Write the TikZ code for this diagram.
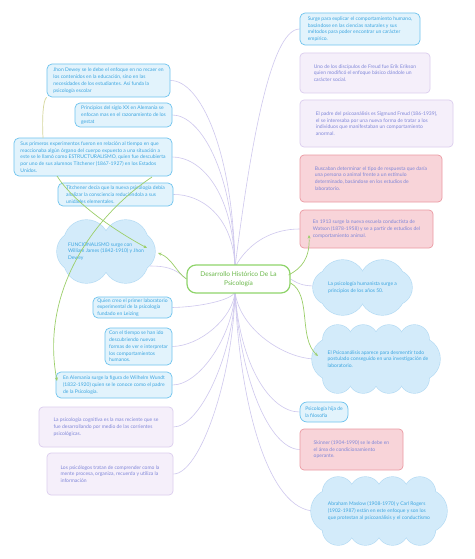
\documentclass[tikz,border=0pt]{standalone}
\usepackage{fontspec}
\setmainfont{Lato}
\usetikzlibrary{arrows.meta,backgrounds,calc}
\definecolor{bfill}{HTML}{E2F3FC}
\definecolor{bdraw}{HTML}{6EC3EE}
\definecolor{btext}{HTML}{3BA5E0}
\definecolor{pfill}{HTML}{F5EFFA}
\definecolor{pdraw}{HTML}{DCCDEE}
\definecolor{ptext}{HTML}{7F86D8}
\definecolor{rfill}{HTML}{F8D4D9}
\definecolor{rdraw}{HTML}{EB9AA3}
\definecolor{cfill}{HTML}{D3EBFA}
\definecolor{cdraw}{HTML}{B5DBF4}
\definecolor{gline}{HTML}{9CCF6A}
\definecolor{gtext}{HTML}{6BB84A}
\definecolor{gdraw}{HTML}{8FD46B}
\definecolor{connc}{HTML}{CFC8EE}
\definecolor{yline}{HTML}{D5D79C}
\newcommand\mycloud[5]{%
 \pgfmathsetmacro\cldS{0.1*(#3-#1)}%
 \pgfmathsetmacro\cldR{1.15*((#3-#1)-2*\cldS)/(2*#5)}%
 \pgfmathsetmacro\cldSR{0.32*(#4-#2)}%
 \pgfmathsetmacro\cldMY{(#2+#4)/2}%
 \pgfmathsetmacro\cldStep{((#3-#1)-2*\cldS)/#5}%
 \pgfmathsetmacro\cldXa{#1+\cldSR}\pgfmathsetmacro\cldXb{#3-\cldSR}%
 \pgfmathsetmacro\cldYt{#2+\cldR}\pgfmathsetmacro\cldYb{#4-\cldR}%
 \pgfmathsetmacro\cldRa{#1+\cldS}\pgfmathsetmacro\cldRb{#3-\cldS}%
 \foreach \pass in {1,2}{%
  \ifnum\pass=1 \tikzset{cpass/.style={draw=cdraw,line width=1.3pt}}\else\tikzset{cpass/.style={fill=cfill}}\fi
  \path[cpass] (\cldXa,\cldMY) circle[radius=\cldSR];
  \path[cpass] (\cldXb,\cldMY) circle[radius=\cldSR];
  \ifnum\pass=2 \path[cpass] (\cldRa,\cldYt) rectangle (\cldRb,\cldYb);\fi
  \foreach \i in {1,...,#5}{%
   \pgfmathsetmacro\cldXX{#1+\cldS+(\i-0.5)*\cldStep}%
   \path[cpass] (\cldXX,\cldYt) circle[radius=\cldR];
   \path[cpass] (\cldXX,\cldYb) circle[radius=\cldR];
  }%
 }%
}
\begin{document}
\begin{tikzpicture}[x=1pt,y=-1pt,
  txt/.style={align=left,font=\fontsize{5}{6.8}\selectfont,inner sep=0pt},
  bbox/.style={txt,rounded corners=5pt,draw=bdraw,fill=bfill,line width=0.7pt,text=btext},
  pbox/.style={txt,rounded corners=4pt,draw=pdraw,fill=pfill,line width=0.7pt,text=ptext},
  rbox/.style={txt,rounded corners=4pt,draw=rdraw,fill=rfill,line width=0.7pt,text=ptext},
  ctext/.style={txt,text=btext},
  conn/.style={draw=connc,line width=0.6pt},
  garrow/.style={draw=gline,line width=0.7pt,-{Stealth[length=3.5pt,width=3pt]}},
  yl/.style={draw=yline,line width=0.7pt}]
\begin{pgfonlayer}{background}
\fill[white] (0,0) rectangle (474,559);
\end{pgfonlayer}
\useasboundingbox (0,0) rectangle (474,559);
% clouds
\mycloud{57}{220}{155}{283}{2}
\mycloud{313}{260}{412}{315}{2}
\mycloud{312}{325}{440}{393}{4}
\mycloud{311}{477}{447}{545}{4}
% center
\node[draw=gdraw,fill=white,line width=1.2pt,rounded corners=9pt,align=center,
  text=gtext,font=\fontsize{6.6}{9}\selectfont,minimum width=103pt,minimum height=28pt,inner sep=0pt]
  (c) at (238.5,279) {Desarrollo Histórico De La\\Psicología};
% left
\node[bbox,minimum width=123pt,minimum height=33pt] (L1) at (108.5,80.5)
 {Jhon Dewey se le debe el enfoque en no recaer en\\los contenidos en la educación, sino en las\\necesidades de los estudiantes. Así funda la\\psicología escolar};
\node[bbox,minimum width=97pt,minimum height=24pt] (L2) at (123.5,115)
 {Principios del siglo XX en Alemania se\\enfocan mas en el razonamiento de los\\gestat};
\node[bbox,minimum width=158pt,minimum height=38pt] (L3) at (93,157)
 {Sus primeros experimentos fueron en relación al tiempo en que\\reaccionaba algún órgano del cuerpo expuesto a una situación a\\este se le llamó como ESTRUCTURALISMO, quien fue descubierta\\por uno de sus alumnos Titchener (1867-1927) en los Estados\\Unidos.};
\node[bbox,minimum width=115pt,minimum height=23pt] (L4) at (115.5,194.5)
 {Titchener decía que la nueva psicología debía\\analizar la consciencia reduciéndola a sus\\unidades elementales.};
\node[ctext,minimum width=98pt,minimum height=63pt] (L5) at (106,251.5)
 {FUNCIONALISMO surge con\\William James (1842-1910) y Jhon\\Dewey};
\node[bbox,minimum width=79pt,minimum height=21pt] (L6) at (132.5,307.5)
 {Quien creo el primer laboratorio\\experimental de la psicología\\fundado en Leizing};
\node[bbox,minimum width=67pt,minimum height=37pt] (L7) at (138.5,346.5)
 {Con el tiempo se han ido\\descubriendo nuevas\\formas de ver e interpretar\\los comportamientos\\humanos.};
\node[bbox,minimum width=116pt,minimum height=26pt] (L8) at (114,385)
 {En Alemania surge la figura de Wilhelm Wundt\\(1832-1920) quien se le conoce como el padre\\de la Psicología.};
\node[pbox,minimum width=134pt,minimum height=40pt] (L9) at (106,427)
 {La psicología cognitiva es la mas reciente que se\\fue desarrollando por medio de las corrientes\\psicológicas.};
\node[pbox,minimum width=126pt,minimum height=42pt] (L10) at (110,474)
 {Los psicólogos tratan de comprender como la\\mente procesa, organiza, recuerda y utiliza la\\información};
% right
\node[bbox,minimum width=120pt,minimum height=32pt] (R1) at (360,29)
 {Surge para explicar el comportamiento humano,\\basándose en las ciencias naturales y sus\\métodos para poder encontrar un carácter\\empírico.};
\node[pbox,minimum width=130pt,minimum height=40pt] (R2) at (365,73)
 {Uno de los discípulos de Freud fue Erik Erikson\\quien modificó el enfoque básico dándole un\\carácter social.};
\node[pbox,minimum width=153pt,minimum height=47pt] (R3) at (376.5,123.5)
 {El padre del psicoanálisis es Sigmund Freud (186-1939),\\el se interesaba por una nueva forma de tratar a los\\individuos que manifestaban un comportamiento\\anormal.};
\node[rbox,minimum width=142pt,minimum height=47pt] (R4) at (371,178.5)
 {Buscaban determinar el tipo de respuesta que daría\\una persona o animal frente a un estímulo\\determinado, basándose en los estudios de\\laboratorio.};
\node[rbox,minimum width=133pt,minimum height=38pt] (R5) at (366.5,229)
 {En 1913 surge la nueva escuela conductista de\\Watson (1878-1958) y se a partir de estudios del\\comportamiento animal.};
\node[ctext,minimum width=99pt,minimum height=55pt] (R6) at (362.5,287.5)
 {La psicología humanista surge a\\principios de los años 50.};
\node[ctext,minimum width=128pt,minimum height=68pt] (R7) at (378,359)
 {El Psicoanálisis aparece para desmentir todo\\postulado conseguido en una investigación de\\laboratorio.};
\node[bbox,rounded corners=7pt,minimum width=48pt,minimum height=20pt] (R8) at (324,412)
 {Psicología hija de\\la filosofía};
\node[rbox,minimum width=103pt,minimum height=41pt] (R9) at (351.5,449.5)
 {Skinner (1904-1990) se le debe en\\el área de condicionamiento\\operante.};
\node[ctext,minimum width=136pt,minimum height=68pt] (R10) at (379,511)
 {Abraham Maslow (1908-1970) y Carl Rogers\\(1902-1987) están en este enfoque y son los\\que protestan al psicoanálisis y el conductismo};
% connectors
\coordinate (pt) at (235,267);
\coordinate (pb) at (235,292);
\begin{pgfonlayer}{background}
\draw[conn] (pt) .. controls (233,150) and (200,80) .. (L1.east);
\draw[conn] (pt) .. controls (233,170) and (200,115) .. (L2.east);
\draw[conn] (pt) .. controls (233,190) and (200,157) .. (L3.east);
\draw[conn] (pt) .. controls (233,215) and (200,194) .. (L4.east);
\coordinate (L5in) at (150,266);
\draw[conn] (c.west) .. controls (175,268) and (165,266) .. (L5in);
\draw[conn] (pb) .. controls (232,300) and (200,307) .. (L6.east);
\draw[conn] (pb) .. controls (233,318) and (200,346) .. (L7.east);
\draw[conn] (pb) .. controls (233,335) and (200,385) .. (L8.east);
\draw[conn] (pb) .. controls (233,355) and (200,427) .. (L9.east);
\draw[conn] (pb) .. controls (233,378) and (200,474) .. (L10.east);
\draw[conn] (pt) .. controls (250,150) and (270,29) .. (R1.west);
\draw[conn] (pt) .. controls (250,240) and (275,229) .. (R5.west);
\coordinate (R6in) at (318,286);
\draw[conn] (c.east) .. controls (300,285) and (305,286) .. (R6in);
\coordinate (R7in) at (316,359);
\draw[conn] (pb) .. controls (240,330) and (285,359) .. (R7in);
\draw[conn] (pb) .. controls (240,365) and (270,412) .. (R8.west);
\draw[conn] (pb) .. controls (240,380) and (270,449) .. (R9.west);
\coordinate (R10in) at (315,511);
\draw[conn] (pb) .. controls (240,410) and (270,511) .. (R10in);
\end{pgfonlayer}
% relationship lines
\coordinate (g1s) at (43,138);
\draw[yl] (g1s) .. controls (42,118) and (43,100) .. (L1.south west);
\coordinate (g2s) at (57,176);
\coordinate (g2e) at (147,248);
\draw[garrow] (g2s) .. controls (72,200) and (110,228) .. (g2e);
\coordinate (g3s) at (152,177);
\coordinate (g3e) at (57,381);
\draw[garrow] (g3s) .. controls (95,215) and (40,290) .. (g3e);
\coordinate (g4e) at (158,253);
\draw[garrow] (c.west) .. controls (176,272) and (172,258) .. (g4e);
\coordinate (g5e) at (318,356);
\draw[garrow] ($(c.east)+(0,4)$) .. controls (312,295) and (298,338) .. (g5e);
\coordinate (g6e) at (309,235);
\draw[garrow] ($(c.east)+(-2,-4)$) .. controls (302,268) and (310,258) .. (g6e);
\end{tikzpicture}
\end{document}
